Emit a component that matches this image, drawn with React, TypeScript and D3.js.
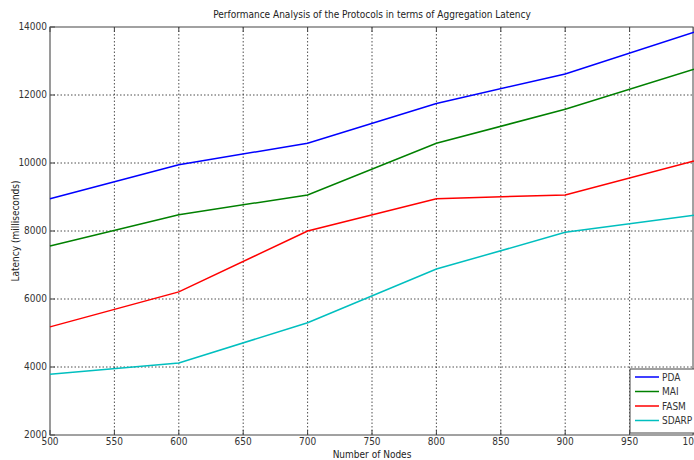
import React from 'react'
import * as d3 from 'd3'

// chart data
const nodes = [500, 600, 700, 800, 900, 1000]
const pda = [8950, 9950, 10580, 11750, 12620, 13850]
const mai = [7560, 8480, 9060, 10580, 11580, 12760]
const fasm = [5180, 6210, 8000, 8950, 9060, 10060]
const sdarp = [3790, 4120, 5300, 6880, 7960, 8460]
const seriesNames = ['PDA', 'MAI', 'FASM', 'SDARP']
const seriesColors = ['#0000ff', '#008000', '#ff0000', '#00bfbf']
const xTicks = [500, 550, 600, 650, 700, 750, 800, 850, 900, 950, 1000]
const yTicks = [2000, 4000, 6000, 8000, 10000, 12000, 14000]

const font = "'Liberation Sans Narrow', 'Arial Narrow', 'DejaVu Sans Condensed', sans-serif"

export default function App() {
  const width = 694, height = 460
  const margin = { top: 27, right: 0, bottom: 25, left: 50 }

  const x = d3.scaleLinear().domain([500, 1000]).range([margin.left, width - margin.right])
  const y = d3.scaleLinear().domain([2000, 14000]).range([height - margin.bottom, margin.top])

  const allSeries = [pda, mai, fasm, sdarp]
  const line = d3.line<number>()
    .x((d, i) => x(nodes[i]))
    .y(d => y(d))

  const x0 = x(500), x1 = x(1000) - 1, yTop = y(14000), yBot = y(2000)

  // legend box in the lower right corner
  const lg = { x: 630, y: 369, w: 70, h: 64 }

  return (
    <svg width={width} height={height} style={{ position: 'absolute', left: 0, top: 0, background: '#fff' }}
      fontFamily={font}>
      {/* grid */}
      {xTicks.slice(1, -1).map(t => (
        <line key={'gx' + t} x1={x(t)} x2={x(t)} y1={yTop} y2={yBot}
          stroke="#222" strokeWidth={0.8} strokeDasharray="1.5,2" />
      ))}
      {yTicks.slice(1, -1).map(t => (
        <line key={'gy' + t} x1={x0} x2={x1} y1={y(t)} y2={y(t)}
          stroke="#222" strokeWidth={0.8} strokeDasharray="1.5,2" />
      ))}

      {/* axes box */}
      <rect x={x0} y={yTop} width={x1 - x0} height={yBot - yTop} fill="none" stroke="#444" strokeWidth={1} />
      <line x1={x0} x2={x0} y1={yTop} y2={yBot} stroke="#999" strokeWidth={1.5} />

      {/* ticks */}
      {xTicks.map(t => (
        <g key={'tx' + t}>
          <line x1={x(t)} x2={x(t)} y1={yBot} y2={yBot - 5} stroke="#444" />
          <line x1={x(t)} x2={x(t)} y1={yTop} y2={yTop + 5} stroke="#444" />
          <text x={x(t)} y={yBot + 10} textAnchor="middle" fontSize={10} fill="#333">{t}</text>
        </g>
      ))}
      {yTicks.map(t => (
        <g key={'ty' + t}>
          <line x1={x0} x2={x0 + 5} y1={y(t)} y2={y(t)} stroke="#444" />
          <text x={x0 - 3} y={y(t) + 3} textAnchor="end" fontSize={10} fill="#333">{t}</text>
        </g>
      ))}

      {/* series */}
      {allSeries.map((s, i) => (
        <path key={seriesNames[i]} d={line(s) || ''} fill="none" stroke={seriesColors[i]} strokeWidth={1.5} />
      ))}

      {/* legend */}
      <rect x={lg.x} y={lg.y} width={lg.w} height={lg.h} fill="#fff" stroke="#444" strokeWidth={1} />
      {seriesNames.map((n, i) => (
        <g key={'lg' + n}>
          <line x1={lg.x + 5} x2={lg.x + 29} y1={lg.y + 8 + i * 14.5} y2={lg.y + 8 + i * 14.5}
            stroke={seriesColors[i]} strokeWidth={1.5} />
          <text x={lg.x + 32} y={lg.y + 11.5 + i * 14.5} fontSize={10} fill="#333">{n}</text>
        </g>
      ))}

      {/* labels */}
      <text x={372} y={18} textAnchor="middle" fontSize={10} fill="#222">
        Performance Analysis of the Protocols in terms of Aggregation Latency
      </text>
      <text x={372} y={458} textAnchor="middle" fontSize={10} fill="#222">Number of Nodes</text>
      <text transform={`translate(19,${(yTop + yBot) / 2}) rotate(-90)`} textAnchor="middle" fontSize={10} fill="#222">
        Latency (milliseconds)
      </text>
    </svg>
  )
}
